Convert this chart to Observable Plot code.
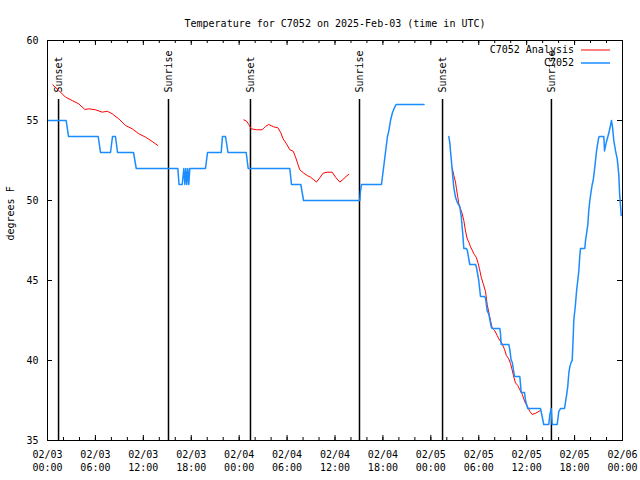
<!DOCTYPE html>
<html><head><meta charset="utf-8">
<script src="https://cdn.jsdelivr.net/npm/d3@7"></script>
<script src="https://cdn.jsdelivr.net/npm/@observablehq/plot@0.6"></script>
<style>body{margin:0;background:#fff}</style>
</head><body><div id="chart"></div>
<script>
const title = "Temperature for C7052 on 2025-Feb-03 (time in UTC)";
const yLabel = "degrees F";
const seriesNames = ["C7052 Analysis", "C7052"];
const startTime = "2025-02-03T00:00:00Z";
const endTime = "2025-02-06T00:00:00Z";
const yTicks = [35, 40, 45, 50, 55, 60];

// Observations (hours after start, °F); null = gap
const obsHours = [0, 2.34, 2.63, 6.35, 6.64, 7.89, 8.14, 8.51, 8.77, 10.77, 11.11, 16.32, 16.47, 16.87, 17.07, 17.2, 17.32, 17.44, 17.57, 17.69, 17.82, 19.78, 20.04, 21.75, 21.91, 22.29, 22.6, 24.88, 25.13, 30.34, 30.55, 31.72, 32.06, 39.11, 39.19, 39.32, 41.82, 42.07, 42.32, 42.57, 42.76, 42.95, 43.2, 43.45, 43.66, 47.15,
  48.5,
  50.25, 50.38, 50.46, 50.59, 50.71, 50.88, 51.09, 51.3, 51.63, 51.81, 52.0, 52.13, 52.43, 52.56, 52.88, 53.6, 53.72, 54.0, 54.22, 54.72, 54.85, 55.06, 55.26, 55.56, 55.68, 56.64, 56.72, 56.81, 57.76, 57.89, 58.06, 58.19, 58.48, 59.14, 59.23, 59.32, 59.73, 59.85, 60.14, 61.73, 61.94, 62.14, 62.77, 62.89, 63.07, 63.2, 63.82, 64.02, 64.24, 64.74, 64.86, 64.99, 65.15, 65.28, 65.4, 65.58, 65.7, 65.83, 65.9, 66.11, 66.24, 66.4, 66.53, 66.65, 66.74, 67.28, 67.37, 67.49, 67.66, 67.78, 67.91, 68.08, 68.21, 68.33, 68.49, 68.62, 68.75, 68.91, 69.03, 69.16, 69.66, 69.75, 69.87, 70.06, 70.28, 70.5, 70.62, 70.75, 70.91, 71.13, 71.34, 71.54, 71.63, 71.76, 71.84];
const obsTemps = [55, 55, 54, 54, 53, 53, 54, 54, 53, 53, 52, 52, 51, 51, 52, 51, 52, 51, 52, 51, 52, 52, 53, 53, 54, 54, 53, 53, 52, 52, 51, 51, 50, 50, 50.6, 51, 51, 52, 53, 54, 54.4, 55, 55.5, 55.8, 56, 56,
  null,
  54, 53.6, 53.1, 52.4, 51.7, 50.8, 50.2, 49.9, 49.6, 49.0, 47.9, 47, 47, 46.9, 46, 46, 45.8, 45.0, 44, 44, 43.9, 43.1, 42.9, 42.1, 42, 42, 41.7, 41, 41, 40.7, 40, 39.9, 39, 39, 38.5, 38, 38, 37.5, 37, 37, 36.5, 36, 36, 36.6, 37, 36, 36, 36.8, 37, 37, 37.4, 37.8, 38.4, 39.2, 39.6, 39.9, 40, 41.5, 42.5, 43.5, 44.3, 45, 45.6, 46.5, 47, 47, 47.5, 47.9, 48.5, 49.4, 50, 50.6, 51, 51.25, 51.9, 52.5, 53.1, 53.6, 53.96, 54, 54, 53.1, 53.4, 53.8, 54.2, 54.7, 55, 54.6, 53.75, 53.1, 52.6, 51.6, 50.5, 49.6, 49.06];

// Analysis (hours after start, °F); null = gap
const anaHours = [0.66, 1.41, 2.25, 3.09, 3.92, 4.67, 5.17, 6.01, 6.85, 7.48, 8.1, 8.93, 9.77, 10.61, 11.43, 12.27, 13.11, 13.81,
  19,
  24.58, 24.92, 25.21, 25.51, 26.17, 26.88, 27.3, 27.71, 28.34, 28.84, 29.18, 29.51, 29.93, 30.34, 30.77, 31.06, 31.34, 31.59, 32.09, 32.52, 32.93, 33.35, 33.68, 34.1, 34.52, 35.02, 35.65, 36.06, 36.6, 37.1, 37.44, 37.73,
  44,
  50.68, 50.88, 51.09, 51.21, 51.38, 51.5, 51.72, 51.93, 52.13, 52.34, 52.56, 52.76, 52.97, 53.18, 53.38, 53.68, 53.88, 54.09, 54.31, 54.56, 54.85, 55.06, 55.26, 55.47, 55.68, 55.97, 56.31, 56.64, 56.94, 57.22, 57.47, 57.76, 57.98, 58.19, 58.39, 58.6, 58.89, 59.14, 59.44, 59.64, 59.85, 60.14, 60.39, 60.69, 61.11, 61.73];
const anaTemps = [57.23, 56.88, 56.46, 56.25, 56.04, 55.69, 55.73, 55.67, 55.52, 55.58, 55.42, 55.1, 54.69, 54.48, 54.17, 53.96, 53.69, 53.44,
  null,
  55.04, 54.96, 54.75, 54.48, 54.42, 54.42, 54.63, 54.75, 54.6, 54.55, 54.27, 53.85, 53.54, 53.17, 53.08, 52.71, 52.29, 51.92, 51.71, 51.56, 51.46, 51.29, 51.15, 51.42, 51.71, 51.77, 51.77, 51.46, 51.15, 51.35, 51.54, 51.63,
  null,
  52.04, 51.56, 51.15, 50.73, 50.2, 49.8, 49.48, 49.17, 48.75, 48.1, 47.6, 47.4, 47.1, 46.9, 46.67, 46.46, 46.15, 45.73, 45.2, 44.8, 44.3, 43.5, 43.0, 42.5, 42.04, 41.9, 41.56, 41.25, 41.04, 40.7, 40.3, 40.1, 39.8, 39.4, 38.96, 38.6, 38.44, 38.17, 37.9, 37.6, 37.33, 37.08, 36.83, 36.63, 36.7, 36.875];

const sunNames = ["Sunset", "Sunrise", "Sunset", "Sunrise", "Sunset", "Sunrise"];
const sunTimes = ["2025-02-03T01:23Z", "2025-02-03T15:09Z", "2025-02-04T01:25Z", "2025-02-04T15:04Z", "2025-02-05T01:28Z", "2025-02-05T15:06Z"];

const t0 = Date.parse(startTime);
const toDate = h => new Date(t0 + h * 3600e3);
const obs = obsHours.map((h, i) => ({t: toDate(h), v: obsTemps[i]}));
const ana = anaHours.map((h, i) => ({t: toDate(h), v: anaTemps[i]}));
const sun = sunNames.map((n, i) => ({name: n, t: new Date(sunTimes[i])}));
const tEnd = new Date(Date.parse(endTime) + 1);
const majorTicks = d3.utcHour.every(6).range(new Date(startTime), tEnd);
const minorTicks = d3.utcHour.every(2).range(new Date(startTime), tEnd);

const RED = "#ff0000", BLUE = "#1a8cff";

const plot = Plot.plot({
  width: 640, height: 480,
  marginLeft: 47, marginRight: 18, marginTop: 40, marginBottom: 40,
  style: {fontFamily: "'DejaVu Sans Mono', monospace", fontSize: "10px", background: "white", color: "black", overflow: "visible"},
  x: {type: "utc", domain: [new Date(startTime), new Date(endTime)]},
  y: {domain: [35, 60]},
  marks: [
    Plot.ruleX(minorTicks, {x: d => d, insetTop: 397, stroke: "black"}),
    Plot.ruleX(minorTicks, {x: d => d, insetBottom: 397, stroke: "black"}),
    Plot.ruleX(majorTicks, {x: d => d, insetTop: 395, stroke: "black"}),
    Plot.ruleX(majorTicks, {x: d => d, insetBottom: 395, stroke: "black"}),
    Plot.ruleY(yTicks, {y: d => d, insetRight: 570, stroke: "black"}),
    Plot.ruleY(yTicks, {y: d => d, insetLeft: 570, stroke: "black"}),
    Plot.ruleX(sun, {x: "t", insetTop: 59, stroke: "black", strokeWidth: 1.5}),
    Plot.text(sun, {x: "t", text: "name", frameAnchor: "top", dy: 52, rotate: -90, textAnchor: "start", lineAnchor: "middle", fill: "black"}),
    Plot.line(ana, {x: "t", y: "v", stroke: RED, strokeWidth: 1}),
    Plot.line(obs, {x: "t", y: "v", stroke: BLUE, strokeWidth: 1.5}),
    Plot.frame({stroke: "black", strokeWidth: 1}),
    Plot.axisX({ticks: majorTicks, tickSize: 0, tickPadding: 9, tickFormat: d3.utcFormat("%m/%d\n%H:%M"), lineHeight: 1.25, label: null}),
    Plot.axisY({ticks: yTicks, tickSize: 0, tickPadding: 9, label: null}),
    Plot.text([title], {text: d => d, frameAnchor: "top", dy: -21, fill: "black"}),
    Plot.text([yLabel], {text: d => d, frameAnchor: "left", dx: -37, rotate: -90, fill: "black"})
  ]
});

// legend (inside top-right of frame, gnuplot style)
const svg = d3.select(plot);
const lg = svg.append("g").attr("font-family", "'DejaVu Sans Mono', monospace").attr("font-size", 10);
[[seriesNames[0], RED, 50], [seriesNames[1], BLUE, 63]].forEach(([name, col, y]) => {
  lg.append("text").attr("x", 574).attr("y", y).attr("dy", "0.32em").attr("text-anchor", "end").attr("fill", "black").text(name);
  lg.append("line").attr("x1", 581).attr("x2", 610).attr("y1", y).attr("y2", y).attr("stroke", col).attr("stroke-width", col === BLUE ? 1.5 : 1);
});

document.getElementById("chart").appendChild(plot);
</script>
</body></html>
